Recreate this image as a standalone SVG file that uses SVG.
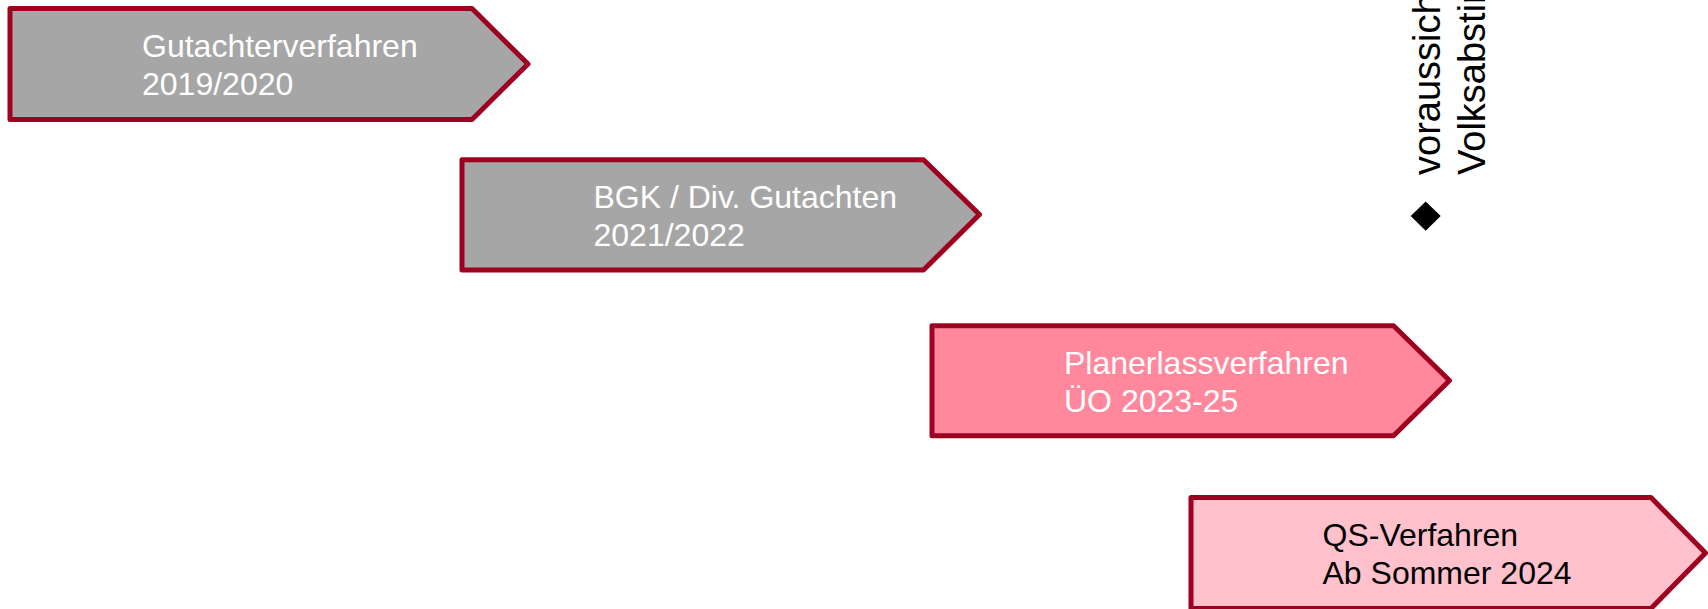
<svg xmlns="http://www.w3.org/2000/svg" width="1708" height="609" viewBox="0 0 1708 609">
<style>
.chev{stroke:#9E0020;stroke-width:5;stroke-linejoin:round}
.g{fill:#A6A6A6}
.p{fill:#FF889D}
.l{fill:#FFC1CC}
.t{font-family:"Liberation Sans",Arial,sans-serif;font-size:32px}
.w{fill:#FFFFFF}
.b{fill:#000000}
.r{font-family:"Liberation Sans",Arial,sans-serif;font-size:38px;fill:#000000}
</style>
<rect width="1708" height="609" fill="#FFFFFF"/>
<g id="node1">
<polygon class="chev g" points="10,8.5 472,8.5 528,64 472,119.5 10,119.5"/>
<text class="t w" x="142" y="57">Gutachterverfahren</text>
<text class="t w" x="142" y="95">2019/2020</text>
</g>
<g id="node2">
<polygon class="chev g" points="462,159.7 923.5,159.7 979.5,214.5 923.5,270 462,270"/>
<text class="t w" x="593.5" y="207.5">BGK / Div. Gutachten</text>
<text class="t w" x="593.5" y="245.5">2021/2022</text>
</g>
<g id="node3">
<polygon class="chev p" points="932,325.8 1393.5,325.8 1449.5,380.5 1393.5,435.8 932,435.8"/>
<text class="t w" x="1064" y="374">Planerlassverfahren</text>
<text class="t w" x="1064" y="412">ÜO 2023-25</text>
</g>
<g id="node4">
<polygon class="chev l" points="1191,497.5 1651,497.5 1705.5,553 1651,608.5 1191,608.5"/>
<text class="t b" x="1322.5" y="545.5">QS-Verfahren</text>
<text class="t b" x="1322.5" y="583.5">Ab Sommer 2024</text>
</g>
<g id="milestone">
<polygon points="1425.7,201.5 1440.7,216 1425.7,230.7 1410.7,216" fill="#000000"/>
<text class="r" transform="translate(1440,175) rotate(-90)"><tspan x="0" y="0">voraussichtliche</tspan><tspan x="0" y="45">Volksabstimmung</tspan></text>
</g>
<g id="connectors"></g>
</svg>
